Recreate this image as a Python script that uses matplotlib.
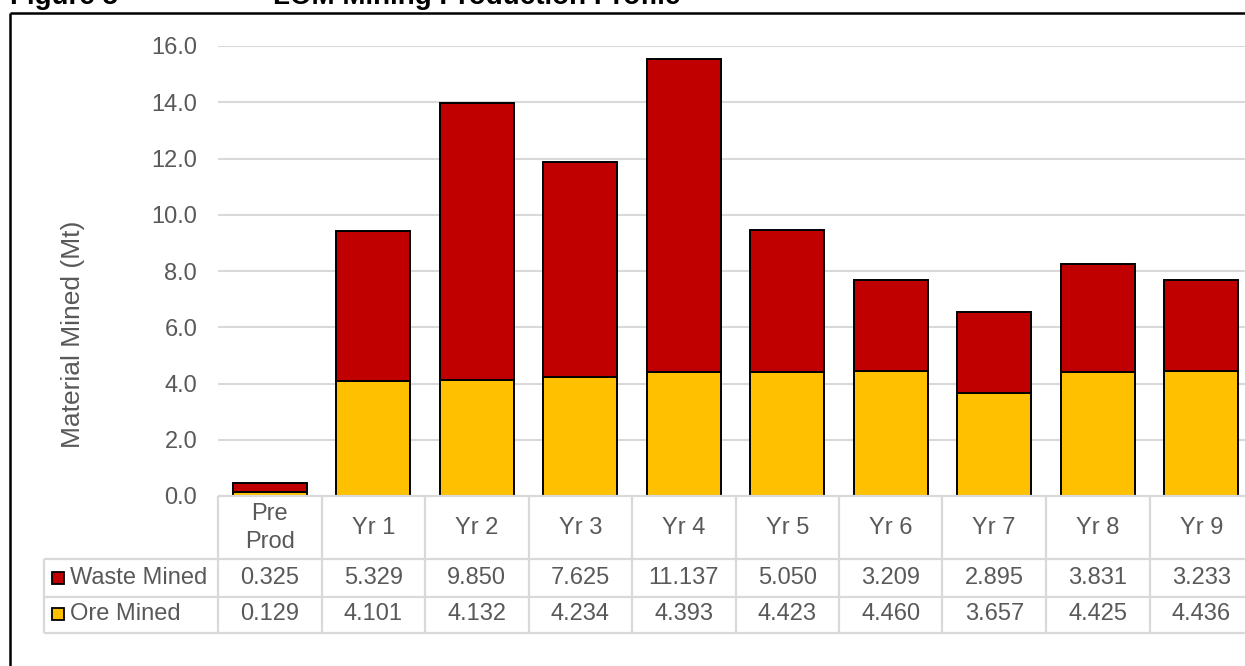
import matplotlib
matplotlib.use("Agg")
import matplotlib.pyplot as plt
from matplotlib.lines import Line2D
from matplotlib.patches import Rectangle
from matplotlib.transforms import blended_transform_factory

# Life-of-mine mining schedule (Mt)
periods = ["Pre\nProd", "Yr 1", "Yr 2", "Yr 3", "Yr 4", "Yr 5", "Yr 6", "Yr 7", "Yr 8", "Yr 9"]
waste_mined = [0.325, 5.329, 9.850, 7.625, 11.137, 5.050, 3.209, 2.895, 3.831, 3.233]
ore_mined = [0.129, 4.101, 4.132, 4.234, 4.393, 4.423, 4.460, 3.657, 4.425, 4.436]
y_ticks = [0, 2, 4, 6, 8, 10, 12, 14, 16]

W, H = 1245, 666
plt.rcParams["font.family"] = ["Liberation Sans", "DejaVu Sans"]
TXT = "#595959"
GRID = "#d9d9d9"
RED = "#C00000"
GOLD = "#FFC000"
FS = 17


def fx(px):
    return px / W


def fy(py):
    return 1 - py / H


fig = plt.figure(figsize=(W / 100, H / 100), dpi=100)

# plot area in pixel units
left_px, right_px = 218, 1253
top_px, zero_px = 46, 496
ax = fig.add_axes([fx(left_px), fy(zero_px), fx(right_px) - fx(left_px), fy(top_px) - fy(zero_px)])

x = list(range(len(periods)))
bw = 0.715
ax.bar(x, ore_mined, width=bw, color=GOLD, edgecolor="black", linewidth=1.4, zorder=3)
ax.bar(x, waste_mined, width=bw, bottom=ore_mined, color=RED, edgecolor="black",
       linewidth=1.4, zorder=3)

ax.set_xlim(-0.5, len(periods) - 0.5)
ax.set_ylim(0, 16)
ax.set_yticks(y_ticks)
ax.set_yticklabels([f"{v:.1f}" for v in y_ticks], color=TXT, fontsize=FS)
ax.tick_params(axis="y", length=0, pad=15)
ax.set_xticks([])
ax.grid(axis="y", color=GRID, linewidth=1.5, zorder=0)
for s in ax.spines.values():
    s.set_visible(False)

fig.text(fx(73), fy(334), "Material Mined (Mt)", rotation=90, ha="center", va="center",
         color=TXT, fontsize=19)

# data table under the bars
tr = blended_transform_factory(ax.transData, fig.transFigure)
row_edges = [496, 559, 597, 633]
legend_left = 44
line_kw = dict(color=GRID, linewidth=1.6, solid_capstyle="butt")

for yy in row_edges:
    x0 = fx(left_px) if yy == 496 else fx(legend_left)
    fig.add_artist(Line2D([x0, 1.02], [fy(yy), fy(yy)], transform=fig.transFigure, **line_kw))
for i in range(len(periods) + 1):
    ax.plot([i - 0.5, i - 0.5], [fy(496), fy(633)], transform=tr, clip_on=False, **line_kw)
fig.add_artist(Line2D([fx(legend_left)] * 2, [fy(559), fy(633)], transform=fig.transFigure, **line_kw))

for i, p in enumerate(periods):
    ax.text(i, fy(528), p, transform=tr, ha="center", va="center", color=TXT, fontsize=FS,
            linespacing=1.3)
    ax.text(i, fy(578), f"{waste_mined[i]:.3f}", transform=tr, ha="center", va="center",
            color=TXT, fontsize=FS)
    ax.text(i, fy(614), f"{ore_mined[i]:.3f}", transform=tr, ha="center", va="center",
            color=TXT, fontsize=FS)

for name, col, yc in [("Waste Mined", RED, 578), ("Ore Mined", GOLD, 614)]:
    fig.add_artist(Rectangle((fx(52), fy(yc + 6)), fx(12), 12 / H, facecolor=col,
                             edgecolor="black", linewidth=1.3, transform=fig.transFigure))
    fig.text(fx(70), fy(yc), name, ha="left", va="center", color=TXT, fontsize=FS)

# outer frame
frame_kw = dict(color="black", linewidth=1.8, solid_capstyle="butt")
fig.add_artist(Line2D([fx(10), 1.0], [fy(13), fy(13)], transform=fig.transFigure, **frame_kw))
fig.add_artist(Line2D([fx(10), fx(10)], [fy(13), 0.0], transform=fig.transFigure, **frame_kw))

# figure caption, running off the top edge
fig.text(fx(10), fy(4), "Figure 5", ha="left", va="baseline", fontsize=20,
         fontweight="bold", color="black")
fig.text(fx(273), fy(4), "LOM Mining Production Profile", ha="left", va="baseline",
         fontsize=20, fontweight="bold", color="black")

fig.savefig("out.png", dpi=100)
